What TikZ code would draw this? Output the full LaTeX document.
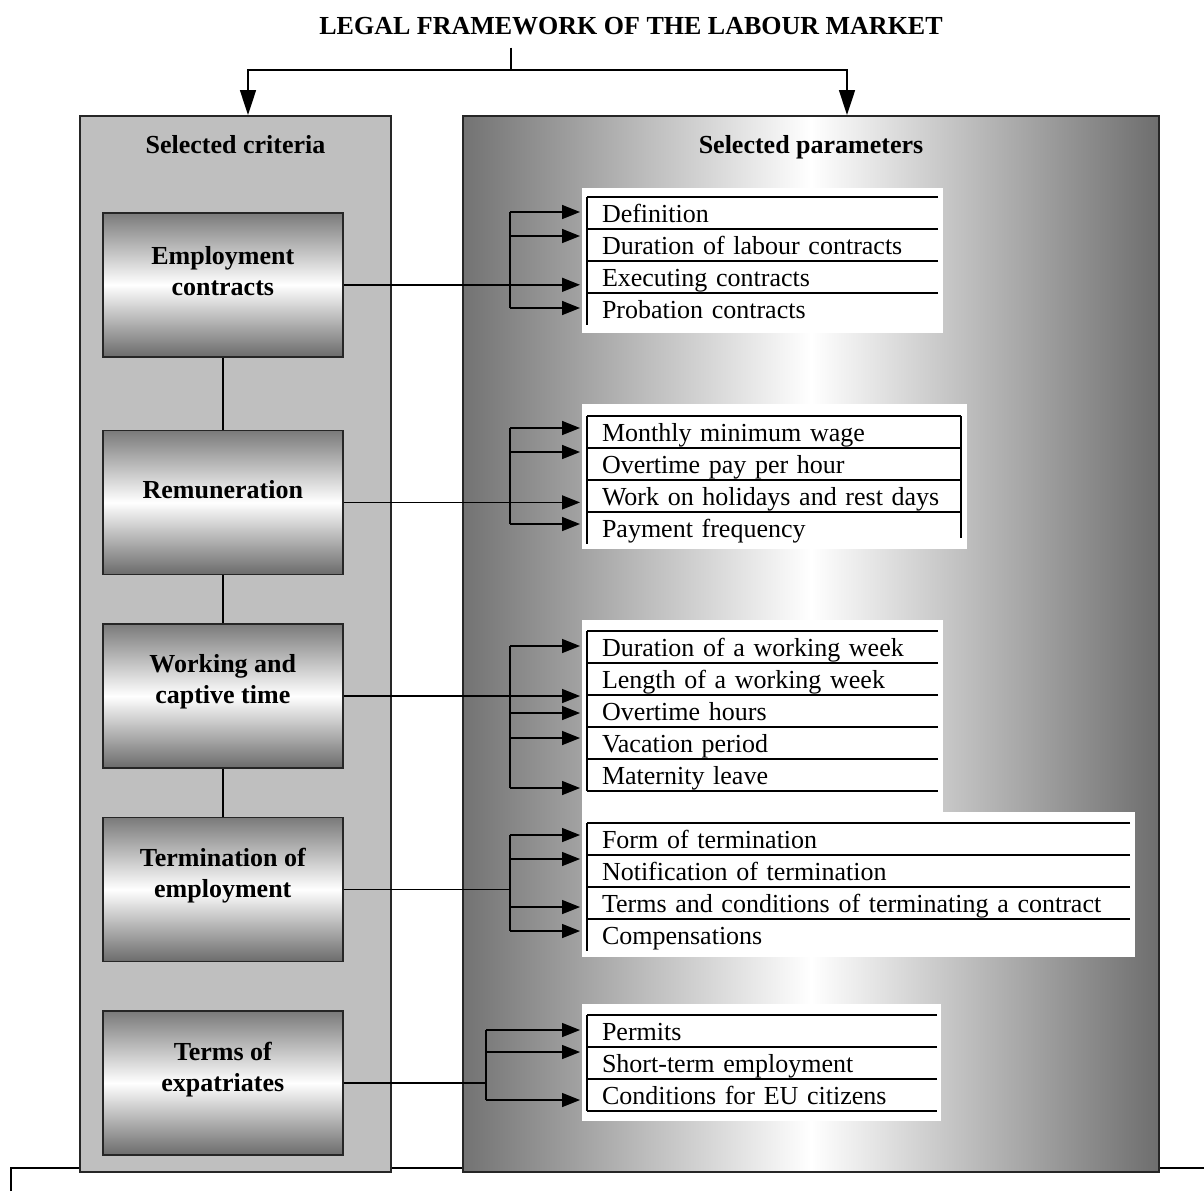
\documentclass[tikz,border=0pt]{standalone}
\usepackage{fontspec}
\setmainfont{Liberation Serif}
\usetikzlibrary{positioning,arrows.meta}

\newcommand{\rowfont}{\fontsize{13}{15.5}\selectfont}
% arrow from a bracket into one row of a list
\newcommand{\feed}[3]{%
  \coordinate (#2-in) at ([xshift=-3.5pt,yshift=#3]#2.west);
  \draw[feed] (#2-in -| #1) -- (#2-in);}

\tikzset{
  panel/.style={draw=black!85, line width=1pt, anchor=north west, minimum height=528pt, minimum width=#1},
  crit/.style={draw=black!85, line width=0.8pt, minimum width=120pt, minimum height=72pt,
    top color=black!52, bottom color=black!58, middle color=white},
  crittext/.style={font=\rowfont\bfseries, align=center},
  head/.style={font=\rowfont\bfseries, text depth=0pt},
  listbg/.style={fill=white, anchor=north west, inner sep=0pt, outer sep=0pt},
  rowline/.style={line width=0.9pt},
  row/.style={text width=#1, inner xsep=7.5pt, inner ysep=0pt, outer sep=0pt, minimum height=16pt,
    text height=10.5pt, text depth=1pt, align=left, font=\rowfont,
    append after command={(\tikzlastnode.north east) edge[rowline] (\tikzlastnode.north west)
      (\tikzlastnode.north west) edge[rowline] (\tikzlastnode.south west)}},
  link/.style={line width=0.8pt},
  feed/.style={link, -{Triangle[length=9pt,width=7pt]}},
  down/.style={link, -{Triangle[length=12.5pt,width=8pt]}},
}

\begin{document}
\begin{tikzpicture}[x=0.5pt,y=-0.5pt]
  \useasboundingbox (0,0) rectangle (1204,1191);

  \draw[link] (11,1191) |- (1204,1168);

  % Panels
  \node[panel=155.5pt, fill=black!25] (critpanel) at (79,115) {}; %
  \node[panel=348pt, left color=black!55, right color=black!57, middle color=white] (parpanel) at (462,115) {}; %

  \node[head] (title) at (631,26) {LEGAL FRAMEWORK OF THE LABOUR MARKET}; %
  \node[head] (crit_head) at ([yshift=-14.5pt]critpanel.north) {Selected criteria}; %
  \node[head] (par_head) at ([yshift=-14.5pt]parpanel.north) {Selected parameters}; %

  \coordinate (split) at (511,70);
  \draw[link, shorten <=3pt] (title.south -| split) -- (split);
  \draw[down] (split) -| ([xshift=6.25pt]critpanel.north);
  \draw[down] (split) -| ([xshift=18pt]parpanel.north);

  % Criteria
  \node[crit, anchor=north west] (crit_emp) at (102,212) {}; %
  \node[crit, below = 36pt of crit_emp] (crit_rem) {}; %
  \node[crit, below = 24pt of crit_rem] (crit_work) {}; %
  \node[crit, below = 24pt of crit_work] (crit_term) {}; %
  \node[crit, below = 24pt of crit_term] (crit_exp) {}; %

  \node[crittext] (emp_txt) at ([yshift=7pt]crit_emp.center) {Employment\\contracts};
  \node[crittext] (rem_txt) at ([yshift=6.5pt]crit_rem.center) {Remuneration};
  \node[crittext] (work_txt) at ([yshift=7pt]crit_work.center) {Working and\\captive time};
  \node[crittext] (term_txt) at ([yshift=7pt]crit_term.center) {Termination of\\employment};
  \node[crittext] (exp_txt) at ([yshift=7pt]crit_exp.center) {Terms of\\expatriates};

  \draw[link] (crit_emp) -- (crit_rem);
  \draw[link] (crit_rem) -- (crit_work);
  \draw[link] (crit_work) -- (crit_term);

  % Parameters
  \node[listbg, minimum width=180.5pt, minimum height=72.5pt] (bg_emp) at (582,188) {};
  \node[row=160.5pt, below right = 4.5pt and 2.5pt of bg_emp.north west] (p_emp1) {Definition};
  \node[row=160.5pt, below = 0pt of p_emp1] (p_emp2) {Duration of labour contracts};
  \node[row=160.5pt, below = 0pt of p_emp2] (p_emp3) {Executing contracts};
  \node[row=160.5pt, below = 0pt of p_emp3] (p_emp4) {Probation contracts};

  \node[listbg, minimum width=192.5pt, minimum height=72.5pt] (bg_rem) at (582,404) {};
  \node[row=172pt, below right = 6pt and 2.5pt of bg_rem.north west] (p_rem1) {Monthly minimum wage};
  \node[row=172pt, below = 0pt of p_rem1] (p_rem2) {Overtime pay per hour};
  \node[row=172pt, below = 0pt of p_rem2] (p_rem3) {Work on holidays and rest days};
  \node[row=172pt, below = 0pt of p_rem3] (p_rem4) {Payment frequency};
  \draw[rowline] (p_rem1.north east) -- ([yshift=3pt]p_rem4.south east);

  \node[listbg, minimum width=180.5pt, minimum height=96pt] (bg_work) at (582,620) {};
  \node[row=160.5pt, below right = 5.5pt and 2.5pt of bg_work.north west] (p_work1) {Duration of a working week};
  \node[row=160.5pt, below = 0pt of p_work1] (p_work2) {Length of a working week};
  \node[row=160.5pt, below = 0pt of p_work2] (p_work3) {Overtime hours};
  \node[row=160.5pt, below = 0pt of p_work3] (p_work4) {Vacation period};
  \node[row=160.5pt, below = 0pt of p_work4] (p_work5) {Maternity leave};
  \draw[rowline] (p_work5.south west) -- (p_work5.south east);

  \node[listbg, minimum width=276.5pt, minimum height=72.5pt] (bg_term) at (582,812) {};
  \node[row=256.5pt, below right = 5.5pt and 2.5pt of bg_term.north west] (p_term1) {Form of termination};
  \node[row=256.5pt, below = 0pt of p_term1] (p_term2) {Notification of termination};
  \node[row=256.5pt, below = 0pt of p_term2] (p_term3) {Terms and conditions of terminating a contract};
  \node[row=256.5pt, below = 0pt of p_term3] (p_term4) {Compensations};

  \node[listbg, minimum width=179.5pt, minimum height=58.5pt] (bg_exp) at (582,1004) {};
  \node[row=160pt, below right = 5.5pt and 2.5pt of bg_exp.north west] (p_exp1) {Permits};
  \node[row=160pt, below = 0pt of p_exp1] (p_exp2) {Short-term employment};
  \node[row=160pt, below = 0pt of p_exp2] (p_exp3) {Conditions for EU citizens};
  \draw[rowline] (p_exp3.south west) -- (p_exp3.south east);

  % Brackets
  \coordinate (br) at (510,0);
  \coordinate (br_exp) at (486,0);

  \feed{br}{p_emp1}{0.5pt}
  \feed{br}{p_emp2}{4.5pt}
  \feed{br}{p_emp4}{0.5pt}
  \draw[feed] (crit_emp) -- (crit_emp -| p_emp1-in);
  \draw[link] (p_emp1-in -| br) -- (p_emp4-in -| br);

  \feed{br}{p_rem1}{2pt}
  \feed{br}{p_rem2}{6pt}
  \feed{br}{p_rem4}{2pt}
  \draw[feed] (crit_rem) -- (crit_rem -| p_rem1-in);
  \draw[link] (p_rem1-in -| br) -- (p_rem4-in -| br);

  \feed{br}{p_work1}{0.5pt}
  \feed{br}{p_work3}{-1pt}
  \feed{br}{p_work4}{2.5pt}
  \feed{br}{p_work5}{-6.5pt}
  \draw[feed] (crit_work) -- (crit_work -| p_work1-in);
  \draw[link] (p_work1-in -| br) -- (p_work5-in -| br);

  \feed{br}{p_term1}{2pt}
  \feed{br}{p_term2}{6pt}
  \feed{br}{p_term3}{-2pt}
  \feed{br}{p_term4}{2pt}
  \draw[link] (crit_term) -- (crit_term -| br);
  \draw[link] (p_term1-in -| br) -- (p_term4-in -| br);

  \feed{br_exp}{p_exp1}{0.5pt}
  \feed{br_exp}{p_exp2}{5.5pt}
  \feed{br_exp}{p_exp3}{-2.5pt}
  \draw[link] (crit_exp) -- (crit_exp -| br_exp);
  \draw[link] (p_exp1-in -| br_exp) -- (p_exp3-in -| br_exp);

\end{tikzpicture}
\end{document}
